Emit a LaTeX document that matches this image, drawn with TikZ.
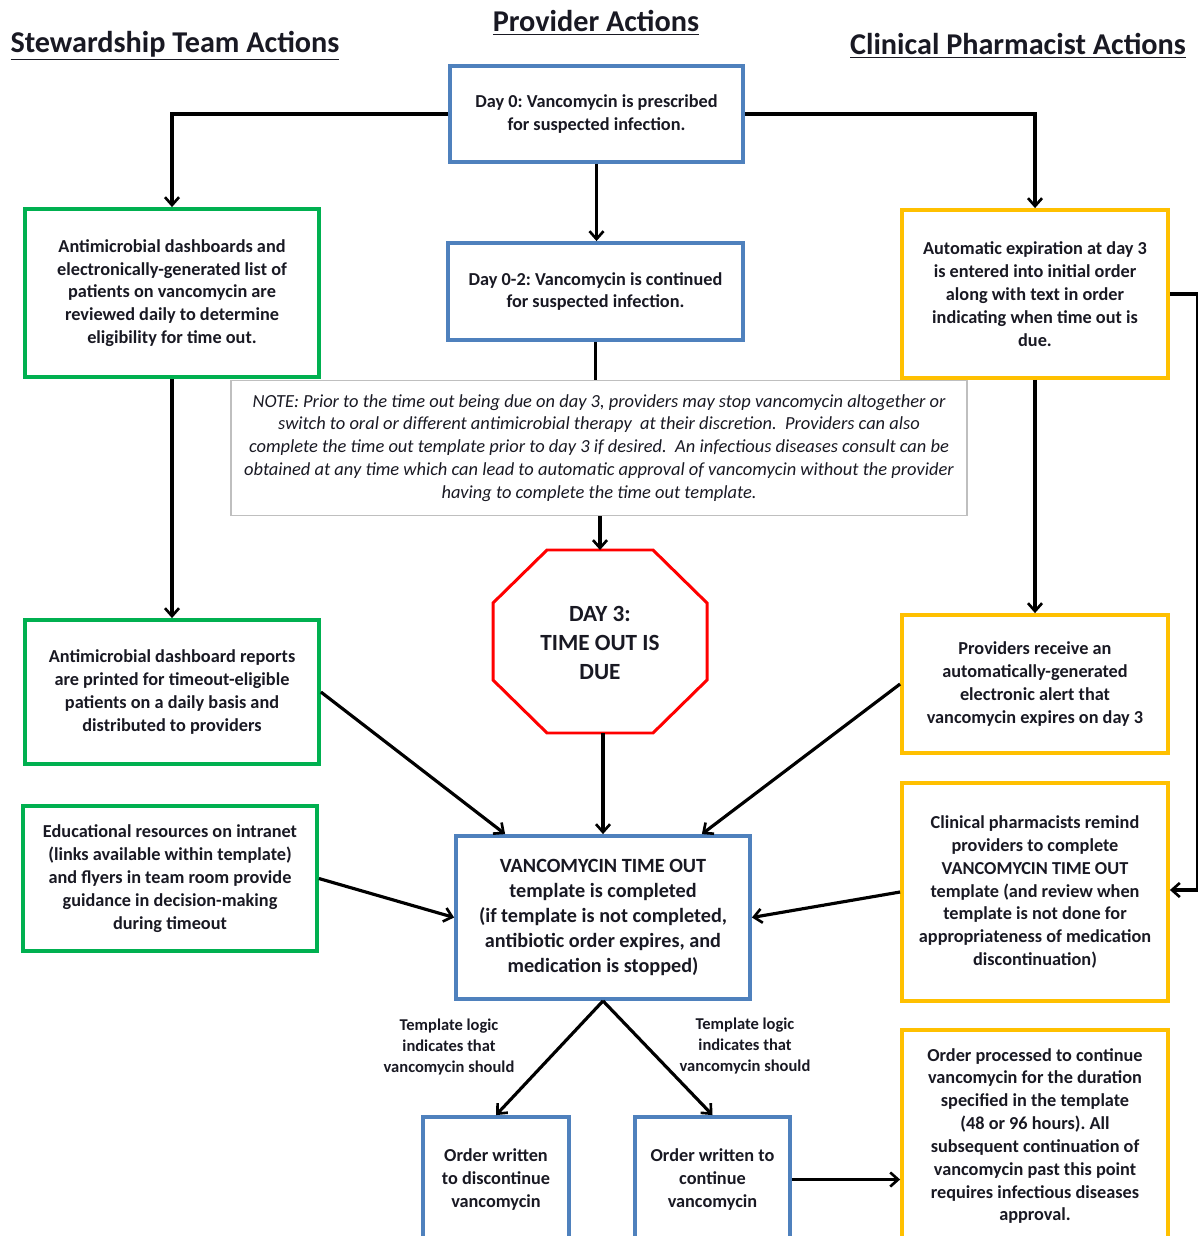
\documentclass[tikz,border=0pt]{standalone}
\usepackage{fontspec}
\setmainfont{Carlito}
\usetikzlibrary{arrows.meta,calc}
\definecolor{bblue}{RGB}{79,129,189}
\definecolor{ggreen}{RGB}{0,176,80}
\definecolor{yyellow}{RGB}{255,192,0}
\definecolor{rred}{RGB}{255,0,0}
\definecolor{txt}{RGB}{25,25,35}
\definecolor{ngray}{RGB}{191,191,191}
\frenchspacing
\begin{document}
\begin{tikzpicture}[x=0.02cm,y=-0.02cm,
 box/.style={draw=#1, line width=2.2pt, fill=white, align=center, text=txt, font=\bfseries\fontsize{10.4}{13}\selectfont, inner sep=2pt},
 arr/.style={line width=1.8pt, -{Straight Barb[length=4.5pt,width=8pt,line width=1.5pt]}},
 conn/.style={line width=1.8pt},
 head/.style={font=\bfseries\fontsize{17.2}{20}\selectfont, text=txt},
 lbl/.style={font=\bfseries\fontsize{9.4}{12}\selectfont, align=center, text=txt}]
\useasboundingbox (0,0) rectangle (1197,1236);

% headings
\node[head] (h1) at (175,46) {\underline{Stewardship Team Actions}};
\node[head] (h2) at (596,23) {\underline{Provider Actions}};
\node[head] (h3) at (1018,46) {\underline{Clinical Pharmacist Actions}};

% provider column
\node[box=bblue, minimum width=5.86cm, minimum height=1.92cm] (d0) at (596.5,114)
 {Day 0: Vancomycin is prescribed\\for suspected infection.};
\node[box=bblue, minimum width=5.9cm, minimum height=1.94cm] (d02) at (595.5,291.5)
 {Day 0-2: Vancomycin is continued\\for suspected infection.};
\node[draw=ngray, line width=0.8pt, fill=white, align=center, text=txt,
 font=\itshape\fontsize{10.5}{13}\selectfont, minimum width=14.72cm, minimum height=2.7cm] (note) at (599,448)
 {NOTE: Prior to the time out being due on day 3, providers may stop vancomycin altogether or\\
  switch to oral or different antimicrobial therapy \ at their discretion. \ Providers can also\\
  complete the time out template prior to day 3 if desired. \ An infectious diseases consult can be\\
  obtained at any time which can lead to automatic approval of vancomycin without the provider\\
  having to complete the time out template.};

% octagon
\draw[draw=rred, line width=1.7pt, fill=white] (547,550) -- (653,550) -- (707,603) -- (707,680)
 -- (653,733) -- (547,733) -- (493,680) -- (493,603) -- cycle;
\node[align=center, text=txt, font=\bfseries\fontsize{13.2}{16.4}\selectfont] (oct) at (600,643)
 {DAY 3:\\TIME OUT IS\\DUE};
\coordinate (octtop) at (600,550);
\coordinate (octbot) at (603,733);

\node[box=bblue, minimum width=5.88cm, minimum height=3.26cm, font=\bfseries\fontsize{11.5}{14.2}\selectfont] (c) at (603,917.5)
 {VANCOMYCIN TIME OUT\\template is completed\\(if template is not completed,\\antibiotic order expires, and\\medication is stopped)};

\node[box=bblue, minimum width=2.92cm, minimum height=2.5cm] (od) at (496,1179.5)
 {Order written\\to discontinue\\vancomycin};
\node[box=bblue, minimum width=3.1cm, minimum height=2.5cm] (oc) at (712.5,1179.5)
 {Order written to\\continue\\vancomycin};

% stewardship column
\node[box=ggreen, minimum width=5.88cm, minimum height=3.36cm] (g1) at (172,293)
 {Antimicrobial dashboards and\\electronically-generated list of\\patients on vancomycin are\\reviewed daily to determine\\eligibility for time out.};
\node[box=ggreen, minimum width=5.88cm, minimum height=2.88cm] (g2) at (172,692)
 {Antimicrobial dashboard reports\\are printed for timeout-eligible\\patients on a daily basis and\\distributed to providers};
\node[box=ggreen, minimum width=5.88cm, minimum height=2.9cm] (g3) at (170,878.5)
 {Educational resources on intranet\\(links available within template)\\and flyers in team room provide\\guidance in decision-making\\during timeout};

% pharmacist column
\node[box=yyellow, minimum width=5.32cm, minimum height=3.36cm] (y1) at (1035,294)
 {Automatic expiration at day 3\\is entered into initial order\\along with text in order\\indicating when time out is\\due.};
\node[box=yyellow, minimum width=5.32cm, minimum height=2.76cm] (y2) at (1035,684)
 {Providers receive an\\automatically-generated\\electronic alert that\\vancomycin expires on day 3};
\node[box=yyellow, minimum width=5.32cm, minimum height=4.36cm] (y3) at (1035,892)
 {Clinical pharmacists remind\\providers to complete\\VANCOMYCIN TIME OUT\\template (and review when\\template is not done for\\appropriateness of medication\\discontinuation)};
\node[box=yyellow, minimum width=5.32cm, minimum height=4.24cm] (y4) at (1035,1136)
 {Order processed to continue\\vancomycin for the duration\\specified in the template\\(48 or 96 hours). All\\subsequent continuation of\\vancomycin past this point\\requires infectious diseases\\approval.};

% labels
\node[lbl] (l1) at (449,1047) {Template logic\\indicates that\\vancomycin should};
\node[lbl] (l2) at (745,1046) {Template logic\\indicates that\\vancomycin should};

% connectors
\draw[arr] (d0.west) -| (g1.north);
\draw[arr] (d0.east) -| (y1.north);
\draw[arr] (d0.south) -- (d0.south |- d02.north);
\draw[conn] (d02.south) -- (d02.south |- note.north);
\draw[arr] (note.south -| octtop) -- (octtop);
\draw[arr] (g1.south) -- (g2.north);
\draw[arr] (y1.south) -- (y2.north);
\draw[arr] (octbot) -- (octbot |- c.north);
\draw[arr] (g2.east) -- ($(c.north west)+(51,0)$);
\draw[arr] (y2.west) -- ($(c.north east)+(-50,0)$);
\draw[arr] (g3.east) -- (c.west);
\draw[arr] (y3.west) -- (c.east);
\coordinate (rt) at (1198,294);
\coordinate (rb) at (1198,890);
\draw[arr] (y1.east) -- (rt) -- (rb) -- (rb -| y3.east);
\draw[arr] (c.south) -- (od.north);
\draw[arr] (c.south) -- (oc.north);
\draw[arr] (oc.east) -- (oc.east -| y4.west);
\end{tikzpicture}
\end{document}
